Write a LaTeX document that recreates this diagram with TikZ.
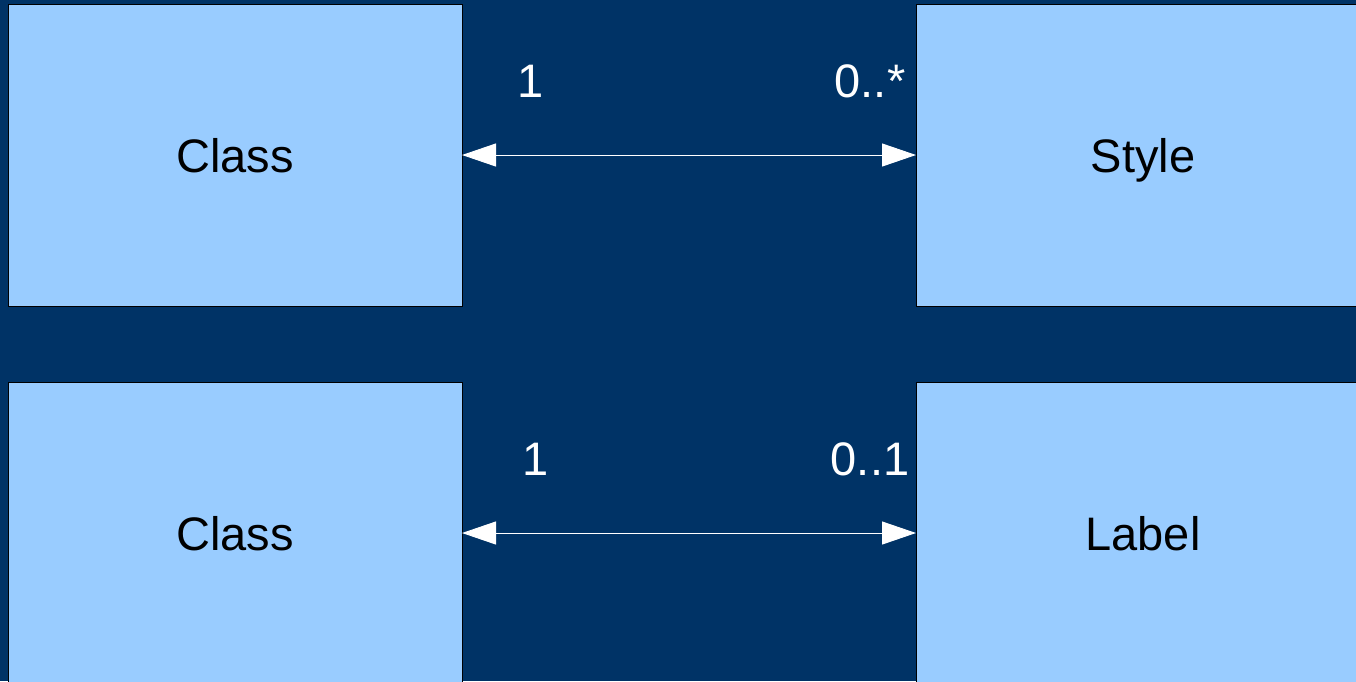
\documentclass[tikz,border=0pt]{standalone}
\usepackage{fontspec}
\setmainfont{Liberation Sans}
\usetikzlibrary{arrows.meta}
\definecolor{bgblue}{HTML}{003366}
\definecolor{boxblue}{HTML}{99CCFF}
\begin{document}
\begin{tikzpicture}[x=1pt,y=-1pt,
  box/.style={draw=black,line width=1pt,fill=boxblue,inner sep=0pt,outer sep=0pt,
    minimum width=454pt,minimum height=302pt,text height=34pt,text depth=0pt,
    font=\fontsize{47}{56}\selectfont},
  mult/.style={text=white,inner sep=0pt,anchor=base,font=\fontsize{47}{56}\selectfont},
  assoc/.style={draw=white,line width=1pt,{Triangle[length=34pt,width=23pt,fill=white]}-{Triangle[length=34pt,width=23pt,fill=white]}}]
\useasboundingbox (0,0) rectangle (1356,681);
\fill[bgblue] (0,0) rectangle (1356,681);
\begin{scope}
\clip (0,0) rectangle (1356,681);
\node[box] (c1) at (235,155) {Class};
\node[box] (s) at (1143,155) {Style};
\node[box] (c2) at (235,533) {Class};
\node[box] (l) at (1143,533) {Label};
\draw[assoc] (c1.east) -- (s.west);
\draw[assoc] (c2.east) -- (l.west);
\node[mult] (m1) at (531,97) {1};
\node[mult] (m2) at (870,97) {0..*};
\node[mult] (m3) at (536,475) {1};
\node[mult] (m4) at (870,475) {0..1};
\end{scope}
\end{tikzpicture}
\end{document}
